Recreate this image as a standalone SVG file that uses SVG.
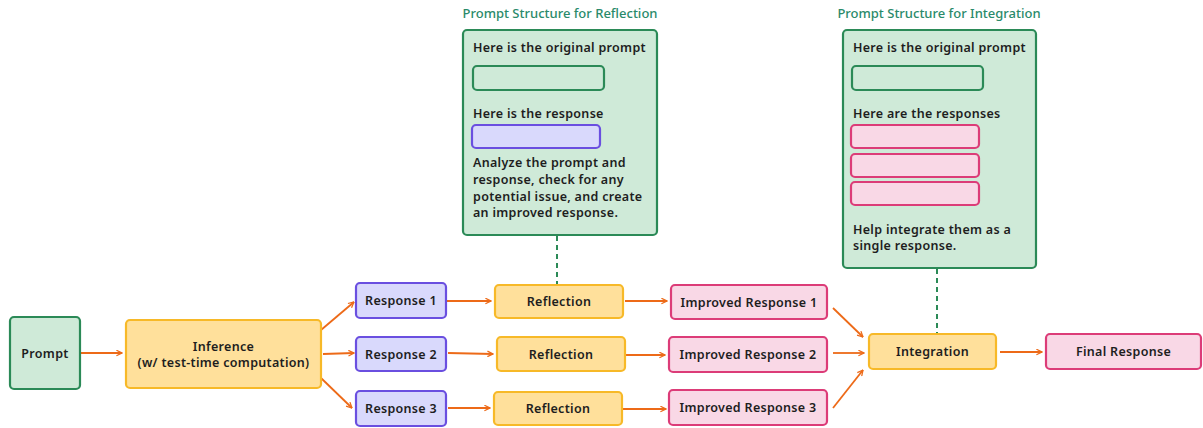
<svg xmlns="http://www.w3.org/2000/svg" width="1203" height="428" viewBox="0 0 1203 428">
<style>
.t{font-family:"Noto Sans","Liberation Sans",sans-serif;font-size:12.5px;font-weight:600;fill:#1e1e1e;letter-spacing:0.3px}
.c{text-anchor:middle;dominant-baseline:central}
.ttl{font-family:"Noto Sans","Liberation Sans",sans-serif;font-size:13px;font-weight:500;fill:#2a8a6a;text-anchor:middle}
.g{fill:#cfead8;stroke:#2b8a57;stroke-width:2.2}
.y{fill:#ffe09b;stroke:#f7b928;stroke-width:2.2}
.p{fill:#d9d9fc;stroke:#6a4fe0;stroke-width:2.2}
.k{fill:#f9d8e6;stroke:#dc3c78;stroke-width:2.2}
.a{stroke:#ed6a18;stroke-width:1.8;fill:none;marker-end:url(#ah)}
.d{stroke:#2b8a57;stroke-width:2;fill:none;stroke-dasharray:5 4}
</style>
<defs>
<marker id="ah" viewBox="0 0 10 10" refX="9" refY="5" markerWidth="7" markerHeight="7" orient="auto" markerUnits="userSpaceOnUse">
<path d="M1 1 L9 5 L1 9" fill="none" stroke="#ed6a18" stroke-width="1.8"/>
</marker>
</defs>
<rect width="1203" height="428" fill="#ffffff"/>

<g id="connectors">
<line class="a" x1="81" y1="353" x2="122" y2="353"/>
<line class="a" x1="321" y1="330" x2="354" y2="302"/>
<line class="a" x1="323" y1="354" x2="354" y2="353"/>
<line class="a" x1="321" y1="378" x2="352" y2="408"/>
<line class="a" x1="447" y1="301" x2="491" y2="301"/>
<line class="a" x1="448" y1="353" x2="493" y2="354"/>
<line class="a" x1="448" y1="408" x2="490" y2="408"/>
<line class="a" x1="625" y1="301" x2="667" y2="301"/>
<line class="a" x1="626" y1="355" x2="665" y2="355"/>
<line class="a" x1="623" y1="409" x2="666" y2="409"/>
<line class="a" x1="833" y1="308" x2="863" y2="337"/>
<line class="a" x1="833" y1="353" x2="864" y2="353"/>
<line class="a" x1="833" y1="408" x2="863" y2="370"/>
<line class="a" x1="1000" y1="352" x2="1042" y2="352"/>
<line class="d" x1="557" y1="236" x2="557" y2="284"/>
<line class="d" x1="937" y1="269" x2="937" y2="333"/>
</g>

<g id="prompt"><rect class="g" x="10" y="317" width="70" height="72" rx="4"/><text class="t c" x="45" y="353">Prompt</text></g>
<g id="inference"><rect class="y" x="126" y="320" width="195" height="68" rx="4"/><text class="t c" x="223.5" y="346">Inference</text><text class="t c" x="223.5" y="362">(w/ test-time computation)</text></g>

<g id="response1"><rect class="p" x="356" y="283" width="90" height="35" rx="4"/><text class="t c" x="401" y="300.5">Response 1</text></g>
<g id="response2"><rect class="p" x="356" y="337" width="90" height="34" rx="4"/><text class="t c" x="401" y="354">Response 2</text></g>
<g id="response3"><rect class="p" x="356" y="391" width="90" height="35" rx="4"/><text class="t c" x="401" y="408.5">Response 3</text></g>

<g id="reflection1"><rect class="y" x="495" y="285" width="128" height="33" rx="4"/><text class="t c" x="559" y="301.5">Reflection</text></g>
<g id="reflection2"><rect class="y" x="497" y="337" width="128" height="34" rx="4"/><text class="t c" x="561" y="354">Reflection</text></g>
<g id="reflection3"><rect class="y" x="494" y="392" width="128" height="33" rx="4"/><text class="t c" x="558" y="408.5">Reflection</text></g>

<g id="improved1"><rect class="k" x="671" y="285" width="156" height="34" rx="4"/><text class="t c" x="749" y="302">Improved Response 1</text></g>
<g id="improved2"><rect class="k" x="669" y="337" width="158" height="35" rx="4"/><text class="t c" x="748" y="354.5">Improved Response 2</text></g>
<g id="improved3"><rect class="k" x="669" y="390" width="158" height="35" rx="4"/><text class="t c" x="748" y="407.5">Improved Response 3</text></g>

<g id="integration"><rect class="y" x="869" y="334" width="127" height="35" rx="4"/><text class="t c" x="932.5" y="351.5">Integration</text></g>
<g id="final"><rect class="k" x="1046" y="334" width="155" height="35" rx="4"/><text class="t c" x="1123.5" y="351.5">Final Response</text></g>

<g id="reflection-prompt">
<text class="ttl" x="560" y="18">Prompt Structure for Reflection</text>
<rect class="g" x="463" y="30" width="194" height="205" rx="4"/>
<text class="t" x="473" y="52">Here is the original prompt</text>
<rect class="g" x="473" y="66" width="131" height="24" rx="4"/>
<text class="t" x="473" y="118">Here is the response</text>
<rect class="p" x="472" y="125" width="128" height="23" rx="4"/>
<text class="t" x="473" y="167">Analyze the prompt and</text>
<text class="t" x="473" y="184">response, check for any</text>
<text class="t" x="473" y="201">potential issue, and create</text>
<text class="t" x="473" y="217">an improved response.</text>
</g>

<g id="integration-prompt">
<text class="ttl" x="939" y="18">Prompt Structure for Integration</text>
<rect class="g" x="843" y="30" width="193" height="238" rx="4"/>
<text class="t" x="853" y="52">Here is the original prompt</text>
<rect class="g" x="852" y="66" width="131" height="24" rx="4"/>
<text class="t" x="853" y="118">Here are the responses</text>
<rect class="k" x="851" y="125" width="128" height="23" rx="4"/>
<rect class="k" x="851" y="154" width="128" height="23" rx="4"/>
<rect class="k" x="851" y="182" width="128" height="23" rx="4"/>
<text class="t" x="853" y="234">Help integrate them as a</text>
<text class="t" x="853" y="250">single response.</text>
</g>
</svg>
